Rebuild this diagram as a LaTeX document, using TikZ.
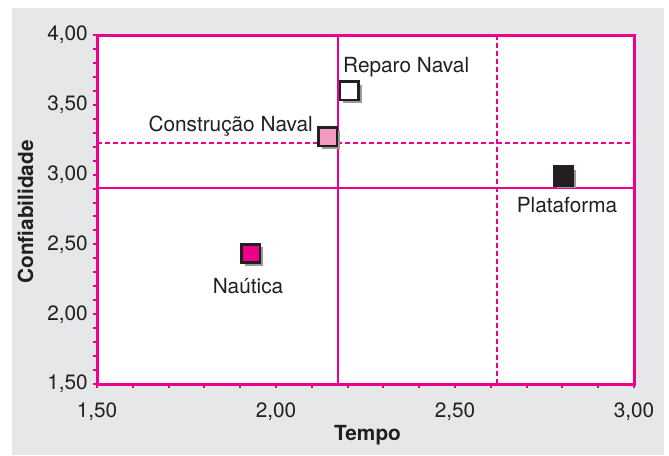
\documentclass[tikz,border=0pt]{standalone}
\usepackage{fontspec}
\setmainfont{TeX Gyre Heros}
\usetikzlibrary{shadows}
\definecolor{linha}{HTML}{EC008C}
\definecolor{fundo}{HTML}{E6E7E8}
\definecolor{texto}{HTML}{231F20}
\definecolor{rosaclaro}{HTML}{F49AC1}
\begin{document}
\begin{tikzpicture}[x=1pt,y=-1pt,font=\fontsize{20.8}{25}\selectfont]
	\tikzstyle{marca}=[rectangle,minimum size=18.5pt,inner sep=0pt,line width=2.6pt,draw=texto,drop shadow={shadow xshift=3.2pt,shadow yshift=-3.2pt,fill=black!40,opacity=1}]
	\tikzstyle{rot}=[text=texto,inner sep=0pt]
	\tikzstyle{grade}=[draw=linha,line width=2.4pt]
	\tikzstyle{tracejada}=[grade,dash pattern=on 5pt off 3pt]
	\useasboundingbox (0,0) rectangle (669,455);
	\fill[fundo] (12,8) rectangle (664,455);
	\fill[white] (97,35) rectangle (634,384);

	\begin{scope}[shift={(97,384)},x=358pt,y=139.6pt,shift={(-1.5,-1.5)}]
		% linhas de referencia
		\draw[grade] (2.173,1.5) -- (2.173,4);
		\draw[grade] (1.5,2.904) -- (3,2.904);
		\draw[tracejada] (2.617,1.5) -- (2.617,4);
		\draw[tracejada] (1.5,3.226) -- (3,3.226);
		% eixos
		\draw[draw=linha,line width=3pt] (1.5,1.5) rectangle (3,4);
		\foreach \t in {1.5,1.6,...,3.05} \draw[draw=linha,line width=2pt] (\t,1.5) -- ++(0,-4pt);
		\foreach \t in {1.5,1.6,...,4.05} \draw[draw=linha,line width=2pt] (1.5,\t) -- ++(-4pt,0);
		\foreach \t/\l in {1.5/{1,50},2/{2,00},2.5/{2,50},3/{3,00}}
			\node[rot,anchor=north] (x\t) at ([yshift=-19pt]\t,1.5) {\l};
		\foreach \t/\l in {1.5/{1,50},2/{2,00},2.5/{2,50},3/{3,00},3.5/{3,50},4/{4,00}}
			\node[rot,anchor=east] (y\t) at ([xshift=-9pt]1.5,\t) {\l};

		% setores
		\node[marca,fill=white] (REP) at (2.205,3.60) {};
		\node[marca,fill=rosaclaro] (CON) at (2.144,3.27) {};
		\node[marca,fill=texto] (PLA) at (2.803,2.99) {};
		\node[marca,fill=linha] (NAU) at (1.930,2.435) {};
	\end{scope}

	\node[rot,anchor=base west] (LREP) at (343,72) {Reparo Naval};
	\node[rot,anchor=base east] (LCON) at (313,131) {Construção Naval};
	\node[rot,anchor=base] (LPLA) at (567,212) {Plataforma};
	\node[rot,anchor=base] (LNAU) at (248,293) {Naútica};

	\node[rot,anchor=base,font=\fontsize{20.8}{25}\selectfont\bfseries] (TEMPO) at (367.5,440) {Tempo};
	\node[rot,anchor=base,rotate=90,font=\fontsize{20.8}{25}\selectfont\bfseries] (CONF) at (33,212) {Confiabilidade};
\end{tikzpicture}
\end{document}
